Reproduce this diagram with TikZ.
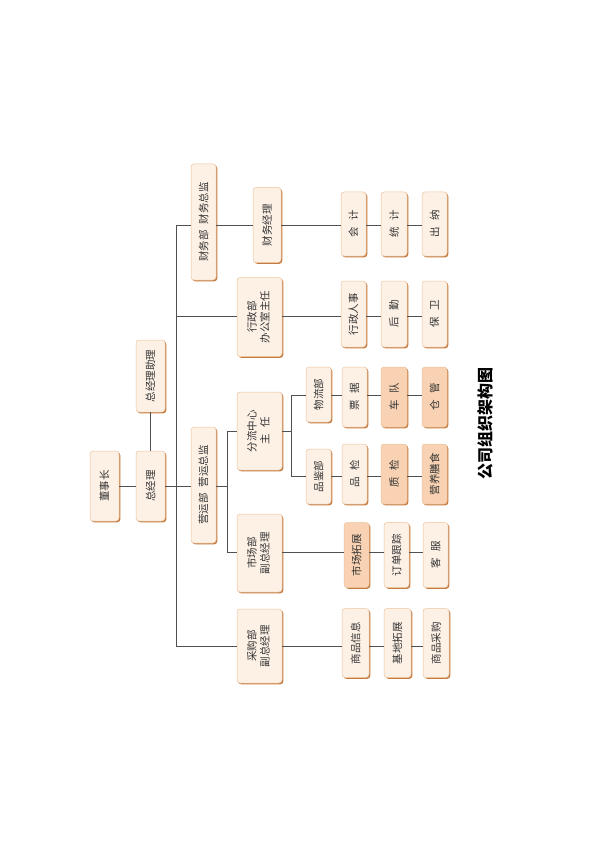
\documentclass[tikz,border=0pt]{standalone}
\usepackage{fontspec}
\newfontfamily\cjk{Noto Sans CJK SC}
\usetikzlibrary{shadows}
\definecolor{boxfill}{HTML}{FDF1E6}
\definecolor{boxhot}{HTML}{F8D2B2}
\definecolor{boxline}{HTML}{EDC39C}
\definecolor{boxshadow}{HTML}{C4793F}
\definecolor{linkc}{HTML}{505050}
\tikzset{
  box/.style={draw=boxline, fill=boxfill, line width=0.5pt, rounded corners=3pt,
    inner sep=0pt, font=\cjk\fontsize{10.5}{14}\selectfont, text=black!80,
    drop shadow={shadow xshift=1.3pt, shadow yshift=-1.3pt, fill=boxshadow, opacity=1}},
  hot/.style={box, fill=boxhot},
  link/.style={draw=linkc, line width=0.8pt},
}
\newcommand{\rt}[1]{\rotatebox{90}{#1}}
\newcommand{\rtt}[2]{\rotatebox{90}{\begin{tabular}{@{}c@{}}#1\\[-1pt]#2\end{tabular}}}
\newcommand{\gp}{\hspace{0.6em}}
\begin{document}
\begin{tikzpicture}[x=1pt,y=-1pt]
\useasboundingbox (0,0) rectangle (600,850);
% level 0-1
\node[box, minimum width=29pt, minimum height=70pt] (dsz) at (104.5,486) {\rt{董事长}};
\node[box, minimum width=29pt, minimum height=70pt] (zjl) at (150.5,486) {\rt{总经理}};
\node[box, minimum width=29pt, minimum height=72pt] (zjlz) at (150.5,376) {\rt{总经理助理}};
% level 2
\node[box, minimum width=25pt, minimum height=116pt] (cwb) at (203.5,222) {\rt{财务部\gp 财务总监}};
\node[box, minimum width=25pt, minimum height=116pt] (yyb) at (203.5,485) {\rt{营运部\gp 营运总监}};
% level 3
\node[box, minimum width=28pt, minimum height=75pt] (cwjl) at (267,225) {\rt{财务经理}};
\node[box, minimum width=45pt, minimum height=79pt] (xzb) at (259.5,317) {\rtt{行政部}{办公室主任}};
\node[box, minimum width=45pt, minimum height=78pt] (flzx) at (259.5,431) {\rtt{分流中心}{主\gp 任}};
\node[box, minimum width=45pt, minimum height=78pt] (scb) at (259.5,553) {\rtt{市场部}{副总经理}};
\node[box, minimum width=45pt, minimum height=74pt] (cgb) at (259.5,646) {\rtt{采购部}{副总经理}};
% finance row
\node[box, minimum width=25pt, minimum height=64pt] (kj) at (353.5,224) {\rt{会\gp 计}};
\node[box, minimum width=26pt, minimum height=64pt] (tj) at (394,224) {\rt{统\gp 计}};
\node[box, minimum width=25pt, minimum height=64pt] (cn) at (434.5,224) {\rt{出\gp 纳}};
% admin row
\node[box, minimum width=25pt, minimum height=66pt] (xzrs) at (353.5,314) {\rt{行政人事}};
\node[box, minimum width=26pt, minimum height=66pt] (hq) at (394,314) {\rt{后\gp 勤}};
\node[box, minimum width=25pt, minimum height=66pt] (bw) at (434.5,314) {\rt{保\gp 卫}};
% logistics row
\node[box, minimum width=25pt, minimum height=55pt] (wlb) at (318.5,394.5) {\rt{物流部}};
\node[box, minimum width=25pt, minimum height=60pt] (pj) at (354.5,397) {\rt{票\gp 据}};
\node[hot, minimum width=26pt, minimum height=60pt] (cd) at (394,397) {\rt{车\gp 队}};
\node[hot, minimum width=25pt, minimum height=60pt] (cgg) at (434.5,397) {\rt{仓\gp 管}};
% quality row
\node[box, minimum width=25pt, minimum height=55pt] (pjb) at (318.5,476.5) {\rt{品鉴部}};
\node[box, minimum width=25pt, minimum height=60pt] (pjn) at (354.5,474) {\rt{品\gp 检}};
\node[hot, minimum width=26pt, minimum height=60pt] (zj) at (394,474) {\rt{质\gp 检}};
\node[hot, minimum width=25pt, minimum height=60pt] (yysh) at (434.5,474) {\rt{营养膳食}};
% market row
\node[hot, minimum width=25pt, minimum height=65pt] (sctz) at (356.5,555) {\rt{市场拓展}};
\node[box, minimum width=25pt, minimum height=65pt] (ddgz) at (396.5,555) {\rt{订单跟踪}};
\node[box, minimum width=25pt, minimum height=65pt] (kf) at (435.5,555) {\rt{客\gp 服}};
% purchase row
\node[box, minimum width=27pt, minimum height=69pt] (spxx) at (355.5,643) {\rt{商品信息}};
\node[box, minimum width=27pt, minimum height=69pt] (jdtz) at (397.5,643) {\rt{基地拓展}};
\node[box, minimum width=26pt, minimum height=69pt] (spcg) at (436,643) {\rt{商品采购}};
% title
\node[font=\cjk\bfseries\fontsize{16}{18}\selectfont, inner sep=0pt] (title) at (485,423) {\rt{公司组织架构图}};

% connectors
\coordinate (ttop) at (176,225);
\coordinate (tmid) at (176,316);
\coordinate (tbot) at (176,646);
\coordinate (ba) at (227,431);
\coordinate (bb) at (227,552);
\coordinate (ca) at (291,395);
\coordinate (cb) at (291,476);
\begin{scope}[on background layer/.try]
\end{scope}
\draw[link] (dsz.east |- 0,486) -- (zjl.west |- 0,486);
\draw[link] (zjlz.south) -- (zjl.north);
\draw[link] (zjl.east |- 0,486) -- (yyb.west |- 0,486);
\draw[link] (ttop) -- (tbot);
\draw[link] (ttop) -- (ttop -| cwb.west);
\draw[link] (cwb.east |- ttop) -- (cwjl.west |- ttop);
\draw[link] (cwjl.east |- ttop) -- (kj.west |- ttop);
\draw[link] (kj.east |- ttop) -- (tj.west |- ttop);
\draw[link] (tj.east |- ttop) -- (cn.west |- ttop);
\draw[link] (tmid) -- (tmid -| xzb.west);
\draw[link] (xzb.east |- tmid) -- (xzrs.west |- tmid);
\draw[link] (xzrs.east |- tmid) -- (hq.west |- tmid);
\draw[link] (hq.east |- tmid) -- (bw.west |- tmid);
\draw[link] (tbot) -- (tbot -| cgb.west);
\draw[link] (cgb.east |- tbot) -- (spxx.west |- tbot);
\draw[link] (spxx.east |- tbot) -- (jdtz.west |- tbot);
\draw[link] (jdtz.east |- tbot) -- (spcg.west |- tbot);
\draw[link] (yyb.east |- 0,486) -- (227,486);
\draw[link] (ba) -- (bb);
\draw[link] (ba) -- (ba -| flzx.west);
\draw[link] (bb) -- (bb -| scb.west);
\draw[link] (scb.east |- bb) -- (sctz.west |- bb);
\draw[link] (sctz.east |- bb) -- (ddgz.west |- bb);
\draw[link] (ddgz.east |- bb) -- (kf.west |- bb);
\draw[link] (flzx.east |- ba) -- (ba -| ca);
\draw[link] (ca) -- (cb);
\draw[link] (ca) -- (ca -| wlb.west);
\draw[link] (wlb.east |- ca) -- (pj.west |- ca);
\draw[link] (pj.east |- ca) -- (cd.west |- ca);
\draw[link] (cd.east |- ca) -- (cgg.west |- ca);
\draw[link] (cb) -- (cb -| pjb.west);
\draw[link] (pjb.east |- cb) -- (pjn.west |- cb);
\draw[link] (pjn.east |- cb) -- (zj.west |- cb);
\draw[link] (zj.east |- cb) -- (yysh.west |- cb);
\end{tikzpicture}
\end{document}
